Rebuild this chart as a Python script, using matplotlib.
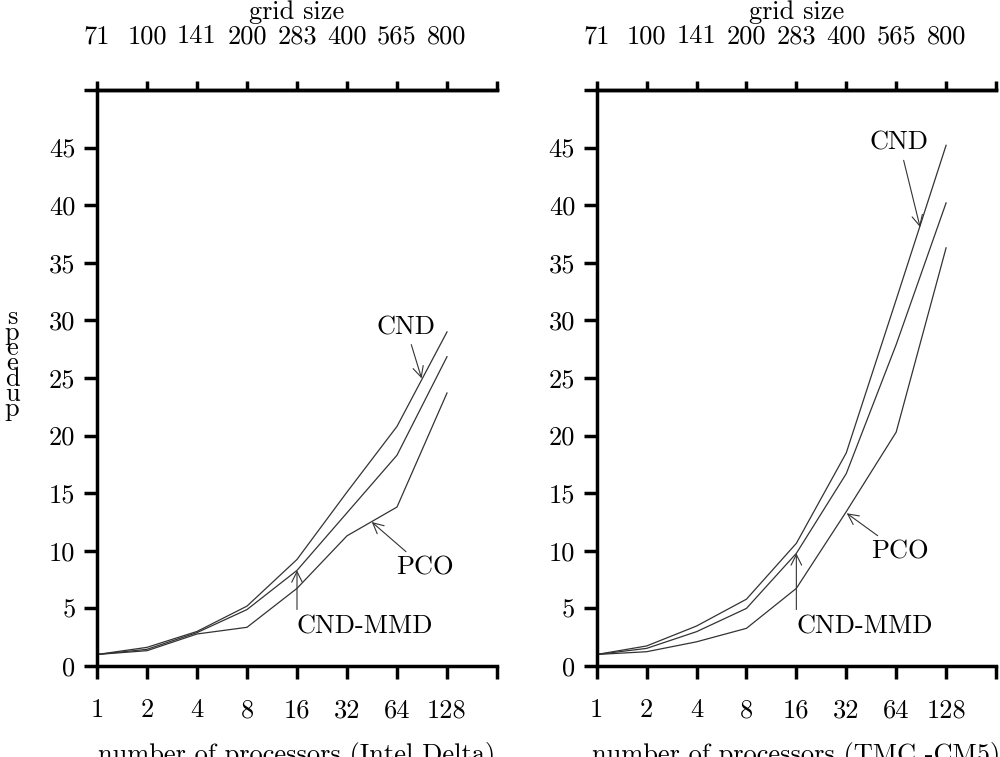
import matplotlib
matplotlib.use("Agg")
import matplotlib.pyplot as plt
from matplotlib.ticker import NullLocator

plt.rcParams['font.family'] = ['cmr10', 'DejaVu Serif']
plt.rcParams['axes.formatter.use_mathtext'] = True

# processors and speedups
procs = [1, 2, 4, 8, 16, 32, 64, 128]
proc_labels = ['1', '2', '4', '8', '16', '32', '64', '128']
grid_labels = ['71', '100', '141', '200', '283', '400', '565', '800']

delta_cnd = [1.0, 1.62, 3.0, 5.2, 9.25, 15.1, 20.8, 29.0]
delta_cndmmd = [1.0, 1.45, 2.9, 4.9, 8.3, 13.3, 18.3, 26.85]
delta_pco = [1.0, 1.33, 2.78, 3.36, 6.74, 11.3, 13.8, 23.7]

cm5_cnd = [1.0, 1.74, 3.47, 5.8, 10.65, 18.5, 31.8, 45.2]
cm5_cndmmd = [1.0, 1.53, 2.98, 5.0, 9.78, 16.7, 27.9, 40.2]
cm5_pco = [1.0, 1.24, 2.1, 3.27, 6.74, 13.4, 20.3, 36.3]

fig = plt.figure(figsize=(10, 7.57), dpi=100)
axL = fig.add_axes([0.097, 0.1202, 0.400, 0.7609])
axR = fig.add_axes([0.5967, 0.1202, 0.3993, 0.7609])

fs = 19
line_kw = dict(color='#333333', lw=0.9)
arrow_kw = dict(arrowstyle='->', color='#333333', lw=0.8, shrinkA=2, shrinkB=0)


def setup(ax, xlabel):
    ax.set_xscale('log', base=2)
    ax.set_xlim(1, 256)
    ax.set_ylim(0, 50)
    ax.spines['right'].set_visible(False)
    for s in ['left', 'bottom', 'top']:
        ax.spines[s].set_linewidth(2.5)
    ax.set_xticks(procs + [256])
    ax.set_xticklabels(proc_labels + [''])
    ax.xaxis.set_minor_locator(NullLocator())
    ax.set_yticks(range(0, 51, 5))
    ax.set_yticklabels([str(v) for v in range(0, 46, 5)] + [''])
    ax.tick_params(axis='x', direction='out', length=9.5, width=2.5, labelsize=fs, pad=14)
    ax.tick_params(axis='y', direction='out', length=9.5, width=2.5, labelsize=fs, pad=6)
    top = ax.secondary_xaxis('top')
    top.set_xticks(procs + [256])
    top.xaxis.set_minor_locator(NullLocator())
    top.tick_params(direction='out', length=6.5, width=2.5, labelsize=fs, pad=27)
    top.set_xticklabels(grid_labels + [''], va='baseline')
    top.spines['top'].set_linewidth(2.5)
    # axis titles at fixed figure positions (baseline anchored)
    bb = ax.get_position()
    xc = bb.x0 + bb.width / 2
    fig.text(xc, -0.006, xlabel, fontsize=fs, ha='center', va='baseline')
    fig.text(xc, 0.975, 'grid size', fontsize=fs, ha='center', va='baseline')


setup(axL, 'number of processors (Intel Delta)')
setup(axR, 'number of processors (TMC -CM5)')

axL.plot(procs, delta_cnd, **line_kw)
axL.plot(procs, delta_cndmmd, **line_kw)
axL.plot(procs, delta_pco, **line_kw)

axR.plot(procs, cm5_cnd, **line_kw)
axR.plot(procs, cm5_cndmmd, **line_kw)
axR.plot(procs, cm5_pco, **line_kw)

# annotations
axL.annotate('CND', xy=(90, 24.97), xytext=(72.5, 29.4), ha='center', va='center',
             fontsize=fs, arrowprops=arrow_kw)
axL.annotate('PCO', xy=(45.1, 12.5), xytext=(94.3, 8.5), ha='center', va='center',
             fontsize=fs, arrowprops=arrow_kw)
axL.annotate('CND-MMD', xy=(16, 8.3), xytext=(16, 3.39), ha='left', va='center',
             fontsize=fs, arrowprops=dict(arrow_kw, relpos=(0, 1)))

axR.annotate('CND', xy=(89.2, 38.1), xytext=(66.9, 45.4), ha='center', va='center',
             fontsize=fs, arrowprops=arrow_kw)
axR.annotate('PCO', xy=(32.2, 13.26), xytext=(67.6, 9.9), ha='center', va='center',
             fontsize=fs, arrowprops=arrow_kw)
axR.annotate('CND-MMD', xy=(16, 9.78), xytext=(16, 3.39), ha='left', va='center',
             fontsize=fs, arrowprops=dict(arrow_kw, relpos=(0, 1)))

fig.text(0.012, 0.52, 's\np\ne\ne\nd\nu\np', fontsize=fs, ha='center', va='center',
         linespacing=0.55)

fig.savefig('out.png', dpi=100)
